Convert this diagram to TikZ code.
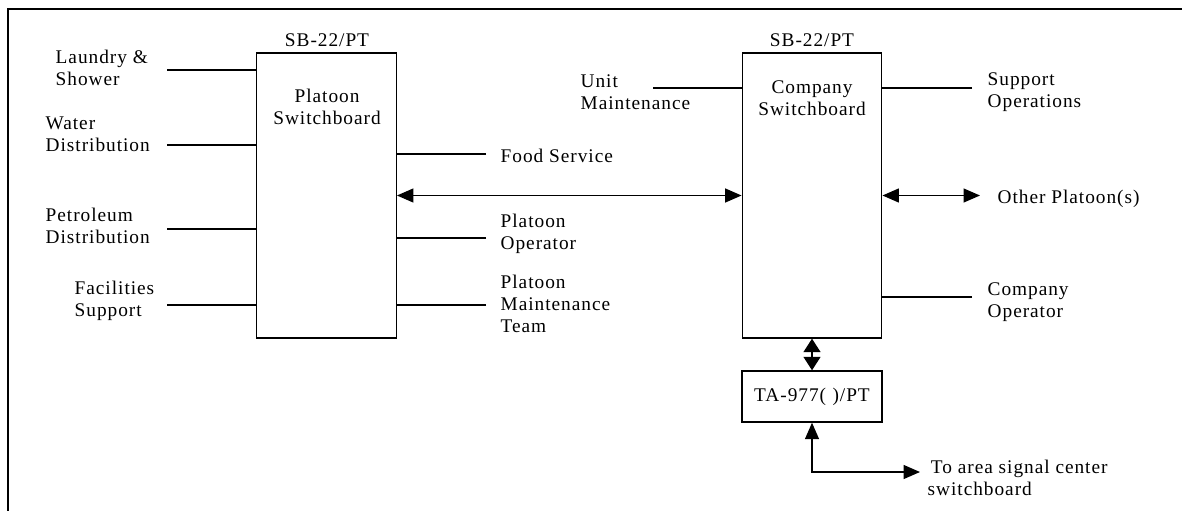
\documentclass[tikz,border=0pt]{standalone}
\usepackage{fontspec}
\setmainfont{Liberation Serif}[LetterSpace=5]
\usetikzlibrary{arrows.meta}
\begin{document}
\begin{tikzpicture}
        [x=0.02cm,y=-0.02cm,line width=0.8pt,
        every node/.style={font=\fontsize{11}{12.5}\selectfont,inner sep=0pt},
        board/.style={draw,minimum width=2.79cm,minimum height=5.7cm},
        adapter/.style={draw,minimum width=2.8cm,minimum height=1.02cm},
        lbl/.style={align=left,anchor=west},
        biarrow/.style={{Triangle[length=0.33cm,width=0.28cm]}-{Triangle[length=0.33cm,width=0.28cm]}},
        shortarrow/.style={{Triangle[length=0.27cm,width=0.34cm]}-{Triangle[length=0.27cm,width=0.34cm]}}]
        \useasboundingbox (0,0) rectangle (1182,510);
        %Frame
        \draw[line width=1.3pt] (8,512) -- (8,9) -- (1184,9);

        %Boxes
        \node[board]   (platoon) at (326.5,195.5)   {};
        \node[board]   (company) at (812,195.5)     {};
        \node[adapter] (ta)      at (812,396.5)     {TA-977(\,\,)/PT};
        \node[align=center] (platoonTxt) at (327,107)  {Platoon\\Switchboard};
        \node[align=center] (companyTxt) at (812,98)   {Company\\Switchboard};
        \node (platoonSB) at (327,40)   {SB-22/PT};
        \node (companySB) at (812,40)   {SB-22/PT};

        %Left side
        \node[lbl] (laundry)   at (55,67.5)  {Laundry \&\\Shower};
        \node[lbl] (water)     at (45,134)   {Water\\Distribution};
        \node[lbl] (petroleum) at (45,226)   {Petroleum\\Distribution};
        \node[lbl] (facility)  at (74,301)   {Facilities\\Support};
        \coordinate (laundryEnd)   at (167,70);
        \coordinate (waterEnd)     at (167,145);
        \coordinate (petroleumEnd) at (167,229);
        \coordinate (facilityEnd)  at (167,305);

        %Middle
        \node[lbl] (food)    at (500,156)  {Food Service};
        \node[lbl] (plOper)  at (500,234)  {Platoon\\Operator};
        \node[lbl] (plTeam)  at (500,304)  {Platoon\\Maintenance\\Team};
        \node[lbl] (unit)    at (580,92)   {Unit\\Maintenance};
        \coordinate (foodEnd)   at (486,154);
        \coordinate (plOperEnd) at (486,238);
        \coordinate (plTeamEnd) at (486,305);
        \coordinate (unitEnd)   at (653,88);

        %Right side
        \node[lbl] (support) at (987,92)   {Support\\Operations};
        \node[lbl] (other)   at (997,199)  {Other Platoon(s)};
        \node[lbl] (coOper)  at (987,302)  {Company\\Operator};
        \node[lbl] (area)    at (927,478)  {\,To area signal center\\switchboard};
        \coordinate (supportEnd) at (972,88);
        \coordinate (otherEnd)   at (980,195.5);
        \coordinate (coOperEnd)  at (972,297);
        \coordinate (areaEnd)    at (920,472);

        \draw
        (laundryEnd)    -- (laundryEnd -| platoon.west)
        (waterEnd)      -- (waterEnd -| platoon.west)
        (petroleumEnd)  -- (petroleumEnd -| platoon.west)
        (facilityEnd)   -- (facilityEnd -| platoon.west)
        (foodEnd)       -- (foodEnd -| platoon.east)
        (plOperEnd)     -- (plOperEnd -| platoon.east)
        (plTeamEnd)     -- (plTeamEnd -| platoon.east)
        (unitEnd)       -- (unitEnd -| company.west)
        (supportEnd)    -- (supportEnd -| company.east)
        (coOperEnd)     -- (coOperEnd -| company.east);

        \draw[biarrow] (platoon) -- (company);
        \draw[biarrow] (company.east) -- (otherEnd);
        \draw[shortarrow] (company) -- (ta);
        \draw[biarrow] (ta.south) |- (areaEnd);
    \end{tikzpicture}
\end{document}
